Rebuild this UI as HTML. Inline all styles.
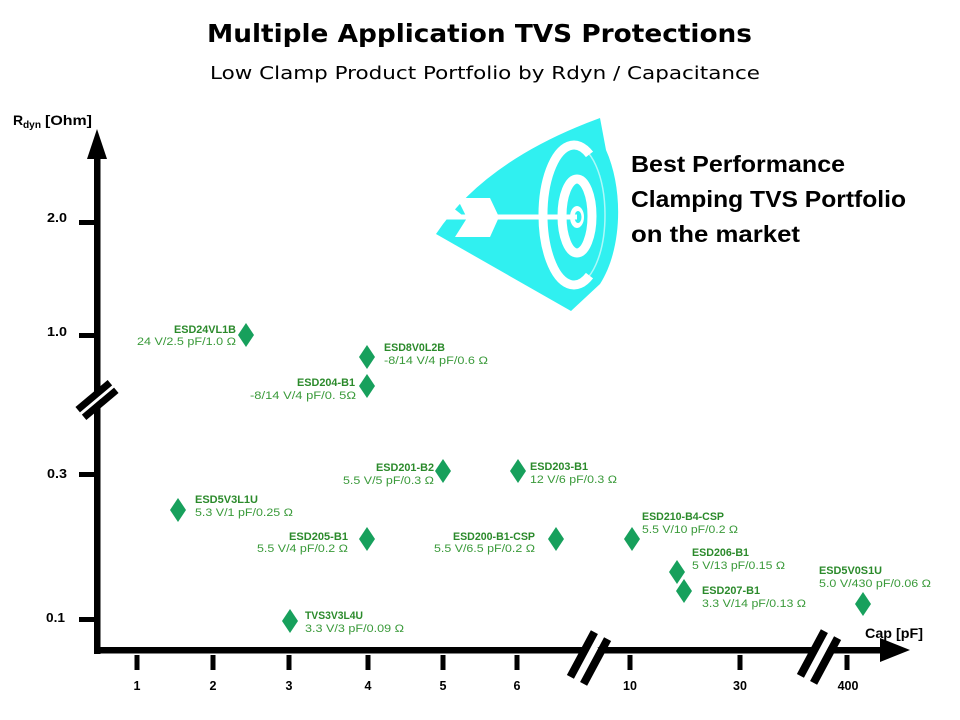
<!DOCTYPE html>
<html>
<head>
<meta charset="utf-8">
<style>
html,body{margin:0;padding:0;background:#fff;}
svg{display:block;}
.g1{font-family:"Liberation Sans",sans-serif;font-size:11px;font-weight:bold;fill:#2b8a2b;}
.g2{font-family:"Liberation Sans",sans-serif;font-size:11px;fill:#3a9a3a;}
.ax{font-family:"Liberation Sans",sans-serif;font-weight:bold;fill:#000;}
</style>
</head>
<body>
<svg width="960" height="720" viewBox="0 0 960 720" xmlns="http://www.w3.org/2000/svg">
<rect width="960" height="720" fill="#fff"/>

<!-- Title -->
<text x="207" y="42" font-family="DejaVu Sans, sans-serif" font-weight="bold" font-size="25" textLength="545" lengthAdjust="spacingAndGlyphs">Multiple Application TVS Protections</text>
<text x="210" y="79" font-family="DejaVu Sans, sans-serif" font-size="18" textLength="550" lengthAdjust="spacingAndGlyphs">Low Clamp Product Portfolio by Rdyn / Capacitance</text>

<!-- Target icon -->
<g>
  <path d="M436,234 Q485,160 600,118 L606,150 C624,190 622,250 600,284 L571,311 Z" fill="#30f0f0"/>
  <path d="M589.5,154.4 A31,70 0 1 0 589.5,275.6" fill="none" stroke="#fff" stroke-width="9"/>
  <ellipse cx="574" cy="215" rx="31" ry="70" fill="none" stroke="#fff" stroke-width="1.5" opacity="0.6"/>
  <ellipse cx="577" cy="216" rx="15" ry="37" fill="none" stroke="#fff" stroke-width="9"/>
  <ellipse cx="577" cy="217" rx="7" ry="11" fill="#fff"/>
  <ellipse cx="578" cy="217" rx="3.5" ry="6" fill="#30f0f0"/>
  <line x1="442" y1="217" x2="577" y2="217" stroke="#fff" stroke-width="5"/>
  <polygon points="457,198 490,198 499,217 490,237 455,237 467,218" fill="#fff"/>
  <polygon points="447,203 462,215 447,215" fill="#fff"/>
</g>

<!-- Best Performance text -->
<text x="631" y="172" font-family="Liberation Sans, sans-serif" font-weight="bold" font-size="23" textLength="214" lengthAdjust="spacingAndGlyphs">Best Performance</text>
<text x="631" y="207" font-family="Liberation Sans, sans-serif" font-weight="bold" font-size="23" textLength="275" lengthAdjust="spacingAndGlyphs">Clamping TVS Portfolio</text>
<text x="631" y="242" font-family="Liberation Sans, sans-serif" font-weight="bold" font-size="23" textLength="169" lengthAdjust="spacingAndGlyphs">on the market</text>

<!-- Y axis -->
<rect x="94" y="150" width="6.5" height="504" fill="#000"/>
<polygon points="97,129 87,159 107,159" fill="#000"/>
<!-- X axis -->
<rect x="94" y="647" width="788" height="6.5" fill="#000"/>
<polygon points="910,650 880,638 880,662" fill="#000"/>

<!-- Y ticks -->
<rect x="79" y="220" width="15" height="5" fill="#000"/>
<rect x="79" y="333" width="15" height="5" fill="#000"/>
<rect x="79" y="472" width="15" height="5" fill="#000"/>
<rect x="79" y="617" width="15" height="5" fill="#000"/>
<text class="ax" x="47" y="222" font-size="12.5" textLength="20" lengthAdjust="spacingAndGlyphs">2.0</text>
<text class="ax" x="47" y="336" font-size="12.5" textLength="20" lengthAdjust="spacingAndGlyphs">1.0</text>
<text class="ax" x="47" y="478" font-size="12.5" textLength="20" lengthAdjust="spacingAndGlyphs">0.3</text>
<text class="ax" x="46" y="622" font-size="12.5" textLength="19" lengthAdjust="spacingAndGlyphs">0.1</text>

<!-- Y axis label -->
<text class="ax" x="13" y="125" font-size="14">R</text>
<text class="ax" x="23" y="128" font-size="10" textLength="18" lengthAdjust="spacingAndGlyphs">dyn</text>
<text class="ax" x="45" y="125" font-size="14" textLength="47" lengthAdjust="spacingAndGlyphs">[Ohm]</text>

<!-- Y break -->
<line x1="81" y1="413" x2="113" y2="386" stroke="#fff" stroke-width="4"/>
<line x1="77.7" y1="409.7" x2="109.9" y2="382.7" stroke="#000" stroke-width="7"/>
<line x1="84.1" y1="417.3" x2="116.3" y2="390.3" stroke="#000" stroke-width="7"/>

<!-- X ticks -->
<g fill="#000">
<rect x="134.5" y="655" width="5" height="15"/>
<rect x="210.5" y="655" width="5" height="15"/>
<rect x="286.5" y="655" width="5" height="15"/>
<rect x="365.5" y="655" width="5" height="15"/>
<rect x="440.5" y="655" width="5" height="15"/>
<rect x="514.5" y="655" width="5" height="15"/>
<rect x="627.5" y="655" width="5" height="15"/>
<rect x="737.5" y="655" width="5" height="15"/>
<rect x="844.5" y="655" width="5" height="15"/>
</g>
<g class="ax" font-size="12.5" text-anchor="middle">
<text x="137" y="690">1</text>
<text x="213" y="690">2</text>
<text x="289" y="690">3</text>
<text x="368" y="690">4</text>
<text x="443" y="690">5</text>
<text x="517" y="690">6</text>
<text x="630" y="690">10</text>
<text x="740" y="690">30</text>
<text x="848" y="690">400</text>
</g>
<text class="ax" x="865" y="638" font-size="13.5" textLength="58" lengthAdjust="spacingAndGlyphs">Cap [pF]</text>

<!-- X breaks -->
<line x1="583" y1="670" x2="595" y2="646" stroke="#fff" stroke-width="8"/>
<line x1="570.4" y1="676.9" x2="594.4" y2="632.1" stroke="#000" stroke-width="8"/>
<line x1="583.6" y1="683.9" x2="607.6" y2="639.1" stroke="#000" stroke-width="8"/>
<line x1="813" y1="669" x2="825" y2="645" stroke="#fff" stroke-width="8"/>
<line x1="800.4" y1="675.9" x2="824.4" y2="631.1" stroke="#000" stroke-width="8"/>
<line x1="813.6" y1="682.9" x2="837.6" y2="638.1" stroke="#000" stroke-width="8"/>

<!-- Diamonds -->
<g fill="#17a05c">
<polygon points="246,323 254,335 246,347 238,335"/>
<polygon points="367,345 375,357 367,369 359,357"/>
<polygon points="367,374 375,386 367,398 359,386"/>
<polygon points="443,459 451,471 443,483 435,471"/>
<polygon points="518,459 526,471 518,483 510,471"/>
<polygon points="178,498 186,510 178,522 170,510"/>
<polygon points="367,527 375,539 367,551 359,539"/>
<polygon points="290,609 298,621 290,633 282,621"/>
<polygon points="556,527 564,539 556,551 548,539"/>
<polygon points="632,527 640,539 632,551 624,539"/>
<polygon points="677,560 685,572 677,584 669,572"/>
<polygon points="684,579 692,591 684,603 676,591"/>
<polygon points="863,592 871,604 863,616 855,604"/>
</g>

<!-- Labels -->
<text class="g1" x="174" y="333" textLength="62" lengthAdjust="spacingAndGlyphs">ESD24VL1B</text>
<text class="g2" x="137" y="345" textLength="99" lengthAdjust="spacingAndGlyphs">24 V/2.5 pF/1.0 Ω</text>

<text class="g1" x="384" y="351" textLength="61" lengthAdjust="spacingAndGlyphs">ESD8V0L2B</text>
<text class="g2" x="384" y="364" textLength="104" lengthAdjust="spacingAndGlyphs">-8/14 V/4 pF/0.6 Ω</text>

<text class="g1" x="297" y="386" textLength="58" lengthAdjust="spacingAndGlyphs">ESD204-B1</text>
<text class="g2" x="250" y="399" textLength="106" lengthAdjust="spacingAndGlyphs">-8/14 V/4 pF/0. 5Ω</text>

<text class="g1" x="376" y="471" textLength="58" lengthAdjust="spacingAndGlyphs">ESD201-B2</text>
<text class="g2" x="343" y="484" textLength="91" lengthAdjust="spacingAndGlyphs">5.5 V/5 pF/0.3 Ω</text>

<text class="g1" x="530" y="470" textLength="58" lengthAdjust="spacingAndGlyphs">ESD203-B1</text>
<text class="g2" x="530" y="483" textLength="87" lengthAdjust="spacingAndGlyphs">12 V/6 pF/0.3 Ω</text>

<text class="g1" x="195" y="503" textLength="63" lengthAdjust="spacingAndGlyphs">ESD5V3L1U</text>
<text class="g2" x="195" y="516" textLength="98" lengthAdjust="spacingAndGlyphs">5.3 V/1 pF/0.25 Ω</text>

<text class="g1" x="289" y="540" textLength="59" lengthAdjust="spacingAndGlyphs">ESD205-B1</text>
<text class="g2" x="257" y="552" textLength="91" lengthAdjust="spacingAndGlyphs">5.5 V/4 pF/0.2 Ω</text>

<text class="g1" x="305" y="619" textLength="58" lengthAdjust="spacingAndGlyphs">TVS3V3L4U</text>
<text class="g2" x="305" y="632" textLength="99" lengthAdjust="spacingAndGlyphs">3.3 V/3 pF/0.09 Ω</text>

<text class="g1" x="453" y="540" textLength="82" lengthAdjust="spacingAndGlyphs">ESD200-B1-CSP</text>
<text class="g2" x="434" y="552" textLength="101" lengthAdjust="spacingAndGlyphs">5.5 V/6.5 pF/0.2 Ω</text>

<text class="g1" x="642" y="520" textLength="82" lengthAdjust="spacingAndGlyphs">ESD210-B4-CSP</text>
<text class="g2" x="642" y="533" textLength="96" lengthAdjust="spacingAndGlyphs">5.5 V/10 pF/0.2  Ω</text>

<text class="g1" x="692" y="556" textLength="57" lengthAdjust="spacingAndGlyphs">ESD206-B1</text>
<text class="g2" x="692" y="569" textLength="93" lengthAdjust="spacingAndGlyphs">5 V/13 pF/0.15 Ω</text>

<text class="g1" x="702" y="594" textLength="58" lengthAdjust="spacingAndGlyphs">ESD207-B1</text>
<text class="g2" x="702" y="607" textLength="104" lengthAdjust="spacingAndGlyphs">3.3 V/14 pF/0.13 Ω</text>

<text class="g1" x="819" y="574" textLength="63" lengthAdjust="spacingAndGlyphs">ESD5V0S1U</text>
<text class="g2" x="819" y="587" textLength="112" lengthAdjust="spacingAndGlyphs">5.0 V/430 pF/0.06 Ω</text>
</svg>
</body>
</html>
